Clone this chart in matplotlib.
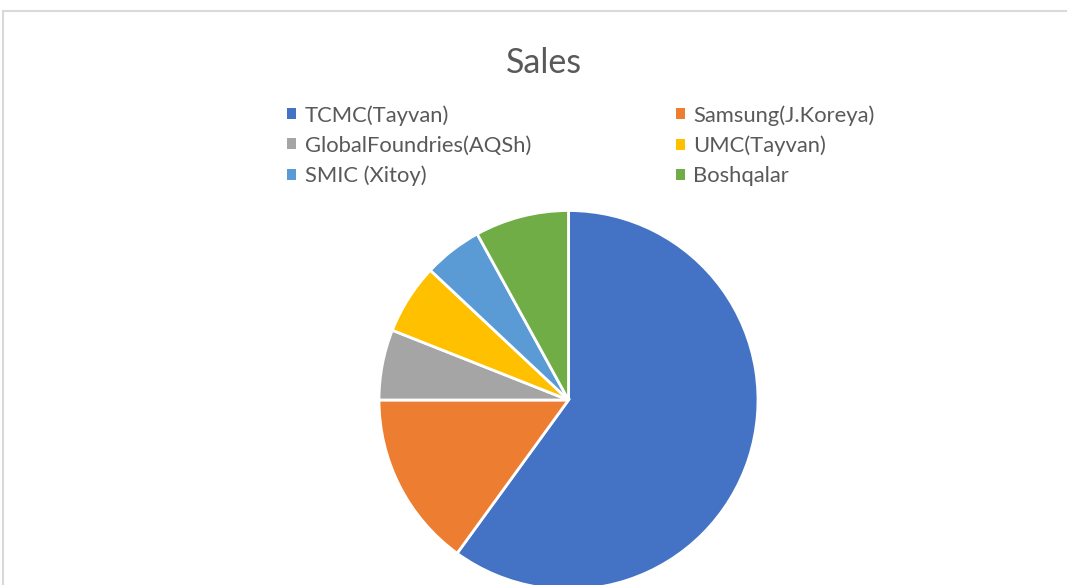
import matplotlib
matplotlib.use("Agg")
import matplotlib.pyplot as plt
from matplotlib.patches import Rectangle, Patch

plt.rcParams['font.family'] = ['Lato', 'DejaVu Sans']

labels = ['TCMC(Tayvan)', 'Samsung(J.Koreya)', 'GlobalFoundries(AQSh)',
          'UMC(Tayvan)', 'SMIC (Xitoy)', 'Boshqalar']
sales = [60, 15, 6, 6, 5, 8]
colors = ['#4472C4', '#ED7D31', '#A5A5A5', '#FFC000', '#5B9BD5', '#70AD47']

W, H = 1067, 585
fig = plt.figure(figsize=[W / 100, H / 100], dpi=100)
ax = fig.add_axes([0, 0, 1, 1])

# chart area border (light grey frame, cut at right/bottom)
fig.patches.append(Rectangle((3 / W, -0.1), 1.2, 1 - 10.5 / H + 0.1,
                             transform=fig.transFigure, fill=False,
                             edgecolor='#D9D9D9', linewidth=1.5))

wedges, _ = ax.pie(sales, colors=colors, startangle=90, counterclock=False,
                   center=(568.5, H - 400), radius=189.5,
                   wedgeprops=dict(edgecolor='white', linewidth=2))
ax.set_xlim(0, W)
ax.set_ylim(0, H)
ax.set_aspect('equal')
ax.axis('off')

fig.text(544 / W, 1 - 63 / H, 'Sales', ha='center', va='center',
         fontsize=24.5, color='#595959')

# legend laid out row-wise in two columns
order = [0, 2, 4, 1, 3, 5]
handles = [Patch(facecolor=colors[i], edgecolor='none') for i in order]
leg = fig.legend(handles, [labels[i] for i in order], ncol=2,
                 loc='upper left', bbox_to_anchor=(287 / W, 1 - 105 / H),
                 frameon=False, fontsize=15.8, labelcolor='#595959',
                 handlelength=0.4, handleheight=0.4, handletextpad=0.4,
                 columnspacing=6.6, labelspacing=0.46, borderpad=0,
                 borderaxespad=0)

fig.savefig('out.png', dpi=100)
